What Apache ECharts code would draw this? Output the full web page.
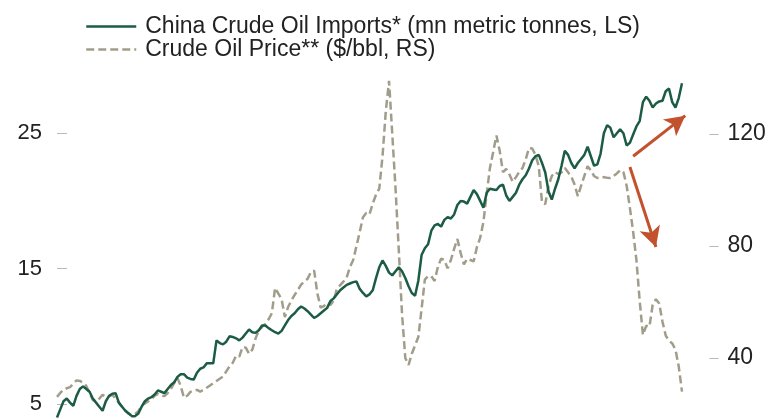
<!DOCTYPE html>
<html>
<head>
<meta charset="utf-8">
<script src="https://cdn.jsdelivr.net/npm/echarts@6/dist/echarts.min.js"></script>
<style>
  html, body { margin: 0; padding: 0; background: #fff; }
  #c { width: 778px; height: 419px; }
</style>
</head>
<body>
<div id="c"></div>
<script>
// monthly categories, Jan 2000 .. Mar 2016 (last two months leave room for the arrow)
var months = [];
for (var y = 2000; y <= 2016; y++) {
    for (var m = 1; m <= 12; m++) {
        if (y === 2016 && m > 3) break;
        months.push(y + '-' + (m < 10 ? '0' + m : m));
    }
}

// China crude oil imports, mn metric tonnes (left scale)
var imports = [
    4.0, 4.6, 5.2, 5.4, 5.1, 4.85, 5.6, 6.1, 6.3, 6.1, 5.9, 5.4,
    5.1, 4.8, 4.5, 5.2, 5.6, 5.75, 5.8, 5.1, 4.8, 4.5, 4.3, 4.1,
    4.1, 4.3, 4.8, 5.2, 5.4, 5.5, 5.7, 6.0, 5.9, 5.8, 6.1, 6.4,
    6.6, 7.0, 7.2, 7.2, 6.95, 6.85, 6.8, 7.3, 7.6, 7.7, 8.0, 8.0,
    8.0, 9.7, 9.5, 9.4, 9.6, 10.0, 9.95, 9.85, 9.7, 9.9, 10.2, 10.5,
    10.3, 10.25, 10.45, 10.8, 10.8, 10.6, 10.45, 10.3, 10.2, 10.4, 10.8, 11.2,
    11.5, 11.7, 12.0, 12.2, 12.05, 11.85, 11.6, 11.35, 11.5, 11.7, 11.9, 12.1,
    12.6, 12.8, 13.1, 13.4, 13.6, 13.8, 13.9, 14.0, 14.05, 13.5, 13.2, 12.95,
    13.1, 13.4, 14.3, 15.1, 15.6, 15.2, 14.7, 14.5, 14.8, 15.1, 14.8, 14.3,
    13.7, 13.2, 13.0, 14.1, 16.0, 16.5, 16.8, 17.8, 18.2, 18.3, 18.1, 18.6,
    18.8, 18.7, 19.0, 19.7, 20.0, 19.95, 19.8, 20.3, 20.8, 20.5, 20.0, 19.5,
    20.6, 20.9, 20.85, 20.8, 21.1, 21.2, 20.4, 20.0, 20.3, 20.6, 21.2, 21.6,
    21.9, 22.4, 23.0, 23.3, 23.4, 22.8, 22.1, 20.7, 20.1, 20.9, 21.6, 22.6,
    23.7, 23.4, 22.8, 22.4, 22.8, 23.1, 23.4, 24.0, 23.3, 22.6, 22.7, 23.5,
    25.0, 25.6, 25.4, 24.7, 25.0, 25.3, 25.0, 24.1, 24.3, 24.9, 25.5, 25.9,
    27.3, 27.7, 27.4, 26.9, 27.2, 27.35, 27.4, 28.1, 28.3, 27.3, 26.9, 27.6,
    28.7
];

// crude oil price, $/bbl (right scale)
var oilPrice = [
    26.1, 27.5, 28.7, 29.2, 29.6, 30.8, 32.0, 31.8, 31.2, 30.0, 27.5, 25.0,
    24.5, 25.5, 26.8, 26.2, 26.3, 26.8, 25.6, 24.0, 22.5, 21.2, 20.2, 19.6,
    20.0, 21.0, 23.0, 23.8, 24.5, 25.3, 26.5, 27.2, 26.5, 26.4, 27.5, 29.0,
    31.0, 32.9, 30.0, 25.8, 26.5, 27.9, 28.3, 28.6, 28.0, 28.6, 29.4, 30.2,
    31.0, 31.8, 32.6, 33.4, 35.2, 37.0, 38.3, 40.8, 40.5, 43.9, 43.7, 41.5,
    43.0, 47.0, 49.8, 51.1, 52.2, 53.8, 56.0, 65.0, 63.0, 61.0, 54.6, 58.2,
    60.5, 62.5, 64.3, 66.2, 67.4, 68.3, 70.7, 71.2, 63.0, 58.0, 58.5, 59.8,
    58.9, 60.5, 64.8, 66.0, 67.3, 68.8, 72.5, 75.0, 80.0, 85.0, 90.3, 91.8,
    91.3, 95.2, 98.3, 100.5, 112.0, 128.0, 139.0, 120.0, 100.5, 78.5, 55.6, 40.0,
    37.5, 41.5, 44.5, 47.5, 57.5, 68.0, 69.2, 69.2, 67.5, 72.5, 75.5, 75.0,
    72.0, 75.0, 79.0, 82.5, 77.5, 73.4, 75.4, 75.0, 74.5, 79.6, 82.9, 88.6,
    98.5, 107.9, 113.6, 119.5, 114.0, 106.4, 107.5, 105.5, 102.9, 104.6, 106.5, 107.8,
    111.0, 115.0, 114.8, 112.5, 108.5, 95.5, 95.0, 101.5, 105.0, 106.4, 105.7, 106.3,
    107.9, 106.3, 104.8, 102.0, 97.8, 101.5, 105.0, 108.5, 107.0, 105.0, 104.3, 104.5,
    104.6, 104.4, 104.3, 105.0, 105.9, 107.1, 106.4, 101.5, 93.6, 85.0, 75.0, 60.5,
    48.2, 51.5, 51.2, 59.0, 61.0, 59.5, 53.0, 48.0, 46.2, 45.2, 43.0, 37.0,
    28.0
];

var leftTicks = [5, 15, 25];
var rightTicks = [40, 80, 120];

// annotation arrows, in data space (month, imports scale)
var arrowUp = [['2014-10', 23.3], ['2016-02', 26.3]];
var arrowDown = [['2014-09', 22.5], ['2015-05', 16.6]];

var green = '#1c5c44';
var tan = '#a29d8a';
var red = '#c2512d';

var chart = echarts.init(document.getElementById('c'));
chart.setOption({
    animation: false,
    textStyle: { fontFamily: 'Liberation Sans, Arial, sans-serif' },
    legend: {
        orient: 'vertical',
        left: 85,
        top: 15,
        padding: 0,
        itemWidth: 50,
        itemHeight: 12,
        itemGap: 0,
        itemStyle: { opacity: 0 },
        lineStyle: { width: 2.5 },
        data: ['China Crude Oil Imports* (mn metric tonnes, LS)', 'Crude Oil Price** ($/bbl, RS)'],
        textStyle: { fontSize: 23, color: '#222', lineHeight: 23, padding: [0, 0, 0, 4] }
    },
    grid: { left: 57, right: 89.5, top: 60, bottom: 0 },
    xAxis: {
        type: 'category',
        data: months,
        boundaryGap: false,
        show: false
    },
    yAxis: [{
        type: 'value',
        position: 'left',
        min: 3.889,
        max: 30.41,
        axisLine: { show: false },
        splitLine: { show: false },
        axisTick: { show: true, inside: true, length: 10, customValues: leftTicks, lineStyle: { color: '#b8b8b8' } },
        axisLabel: { customValues: leftTicks, margin: 15, fontSize: 22, color: '#222' }
    }, {
        type: 'value',
        position: 'right',
        offset: 21,
        min: 18.21,
        max: 146.43,
        axisLine: { show: false },
        splitLine: { show: false },
        axisTick: { show: true, length: 9, customValues: rightTicks, lineStyle: { color: '#b8b8b8' } },
        axisLabel: { customValues: rightTicks, margin: 18, fontSize: 23, color: '#222' }
    }],
    series: [{
        name: 'Crude Oil Price** ($/bbl, RS)',
        type: 'line',
        yAxisIndex: 1,
        data: oilPrice,
        symbol: 'none',
        lineStyle: { color: tan, width: 2.5, type: [8, 4] },
        itemStyle: { color: tan }
    }, {
        name: 'China Crude Oil Imports* (mn metric tonnes, LS)',
        type: 'line',
        yAxisIndex: 0,
        data: imports,
        symbol: 'none',
        lineStyle: { color: green, width: 2.5 },
        itemStyle: { color: green },
        markLine: {
            silent: true,
            symbol: ['none', 'arrow'],
            symbolSize: [16, 20],
            label: { show: false },
            lineStyle: { color: red, width: 3, type: 'solid' },
            data: [
                [{ coord: arrowUp[0] }, { coord: arrowUp[1] }],
                [{ coord: arrowDown[0] }, { coord: arrowDown[1] }]
            ]
        }
    }]
});
</script>
</body>
</html>
